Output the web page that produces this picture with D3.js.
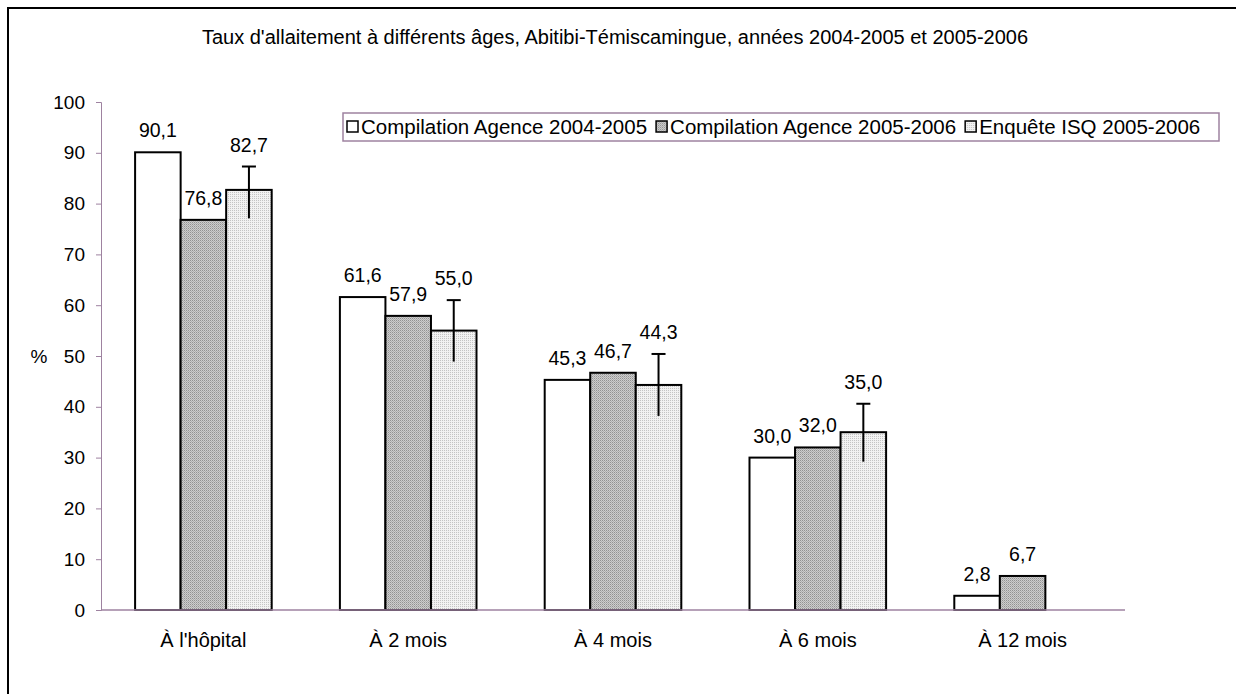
<!DOCTYPE html>
<html lang="fr">
<head>
  <meta charset="UTF-8" />
  <title>Taux d'allaitement</title>
  <script src="https://d3js.org/d3.v7.min.js"></script>
  <style>
    body {
      margin: 0;
      background: #ffffff;
      font-family: 'Liberation Sans', Arial, sans-serif;
    }
    text {
      font-family: 'Liberation Sans', Arial, sans-serif;
      fill: #000;
    }
  </style>
</head>
<body>
  <div id="chart"></div>

  <script>
    // data
    const categories = ["À l'hôpital", "À 2 mois", "À 4 mois", "À 6 mois", "À 12 mois"];
    const seriesNames = ["Compilation Agence 2004-2005", "Compilation Agence 2005-2006", "Enquête ISQ 2005-2006"];
    const agence0405 = [90.1, 61.6, 45.3, 30.0, 2.8];
    const agence0506 = [76.8, 57.9, 46.7, 32.0, 6.7];
    const isq0506 = [82.7, 55.0, 44.3, 35.0, null];
    const isqLow = [77.1, 48.9, 38.2, 29.2, null];
    const isqHigh = [87.3, 61.0, 50.4, 40.6, null];
    const yTicks = [0, 10, 20, 30, 40, 50, 60, 70, 80, 90, 100];

    const W = 1236, H = 694;
    const margin = { left: 101, right: 111, top: 102, bottom: 84 };
    const axisColor = "#9e82a0";

    const svg = d3.select("#chart").append("svg")
      .attr("width", W)
      .attr("height", H);

    // dotted fills
    const defs = svg.append("defs");
    const p1 = defs.append("pattern")
      .attr("id", "dotsDark")
      .attr("width", 2).attr("height", 2)
      .attr("patternUnits", "userSpaceOnUse");
    p1.append("rect").attr("width", 2).attr("height", 2).attr("fill", "#cdcdcd");
    p1.append("rect").attr("width", 1).attr("height", 1).attr("fill", "#929292");
    p1.append("rect").attr("x", 1).attr("y", 1).attr("width", 1).attr("height", 1).attr("fill", "#aeaeae");

    const p2 = defs.append("pattern")
      .attr("id", "dotsLight")
      .attr("width", 2).attr("height", 2)
      .attr("patternUnits", "userSpaceOnUse");
    p2.append("rect").attr("width", 2).attr("height", 2).attr("fill", "#f2f2f2");
    p2.append("rect").attr("width", 1).attr("height", 1).attr("fill", "#c4c4c4");

    const fills = ["#ffffff", "url(#dotsDark)", "url(#dotsLight)"];

    // outer frame (left and top edges visible)
    svg.append("path")
      .attr("d", `M8,${H} L8,8 L${W},8`)
      .attr("fill", "none")
      .attr("stroke", "#000")
      .attr("stroke-width", 2);

    // title
    svg.append("text")
      .attr("x", 615)
      .attr("y", 44)
      .attr("text-anchor", "middle")
      .attr("font-size", 20)
      .text("Taux d'allaitement à différents âges, Abitibi-Témiscamingue, années 2004-2005 et 2005-2006");

    const x0 = d3.scaleBand()
      .domain(categories)
      .range([margin.left, W - margin.right])
      .paddingInner(0.333)
      .paddingOuter(0.1665);

    const x1 = d3.scaleBand()
      .domain([0, 1, 2])
      .range([0, x0.bandwidth()]);

    const y = d3.scaleLinear()
      .domain([0, 100])
      .range([H - margin.bottom, margin.top]);

    // y axis
    const yAxis = svg.append("g")
      .attr("transform", `translate(${margin.left},0)`)
      .call(d3.axisLeft(y).tickValues(yTicks).tickSize(5).tickPadding(11).tickFormat(d3.format("d")));
    yAxis.select(".domain").attr("stroke", axisColor);
    yAxis.selectAll(".tick line").attr("stroke", axisColor);
    yAxis.selectAll(".tick text")
      .attr("font-size", 19)
      .attr("font-family", "'Liberation Sans', Arial, sans-serif");

    svg.append("text")
      .attr("x", 39)
      .attr("y", y(50) + 7)
      .attr("text-anchor", "middle")
      .attr("font-size", 19)
      .text("%");

    // bars
    const series = [agence0405, agence0506, isq0506];
    const barData = [];
    categories.forEach((c, i) => {
      series.forEach((s, k) => {
        if (s[i] != null) barData.push({ cat: c, k: k, v: s[i], i: i });
      });
    });

    svg.append("g").selectAll("rect")
      .data(barData)
      .join("rect")
      .attr("x", d => x0(d.cat) + x1(d.k))
      .attr("y", d => y(d.v))
      .attr("width", x1.bandwidth())
      .attr("height", d => y(0) - y(d.v))
      .attr("fill", d => fills[d.k])
      .attr("stroke", "#000")
      .attr("stroke-width", 2);

    // error bars on the ISQ series
    const errData = categories.map((c, i) => ({ cat: c, lo: isqLow[i], hi: isqHigh[i] }))
      .filter(d => d.hi != null);
    const eg = svg.append("g").attr("stroke", "#000").attr("stroke-width", 2);
    errData.forEach(d => {
      const cx = x0(d.cat) + x1(2) + x1.bandwidth() / 2;
      eg.append("line")
        .attr("x1", cx).attr("x2", cx)
        .attr("y1", y(d.lo)).attr("y2", y(d.hi));
      eg.append("line")
        .attr("x1", cx - 7).attr("x2", cx + 7)
        .attr("y1", y(d.hi)).attr("y2", y(d.hi));
    });

    // x axis line drawn over bar bottoms
    svg.append("line")
      .attr("x1", margin.left).attr("x2", W - margin.right)
      .attr("y1", y(0)).attr("y2", y(0))
      .attr("stroke", axisColor)
      .attr("stroke-width", 1.5);

    // value labels
    svg.append("g").selectAll("text")
      .data(barData)
      .join("text")
      .attr("x", d => x0(d.cat) + x1(d.k) + x1.bandwidth() / 2)
      .attr("y", d => {
        const top = d.k === 2 && isqHigh[d.i] != null ? isqHigh[d.i] : d.v;
        return y(top) - 15;
      })
      .attr("text-anchor", "middle")
      .attr("font-size", 19.5)
      .text(d => d3.format(".1f")(d.v).replace(".", ","));

    // category labels
    svg.append("g").selectAll("text")
      .data(categories)
      .join("text")
      .attr("x", d => x0(d) + x0.bandwidth() / 2)
      .attr("y", 647)
      .attr("text-anchor", "middle")
      .attr("font-size", 20)
      .text(d => d);

    // legend
    const legend = svg.append("g").attr("transform", "translate(343,113)");
    legend.append("rect")
      .attr("width", 876)
      .attr("height", 28)
      .attr("fill", "#fff")
      .attr("stroke", axisColor)
      .attr("stroke-width", 1.5);
    let lx = 4;
    seriesNames.forEach((name, k) => {
      const g = legend.append("g").attr("transform", `translate(${lx},8)`);
      g.append("rect")
        .attr("width", 11).attr("height", 11)
        .attr("fill", fills[k])
        .attr("stroke", "#000")
        .attr("stroke-width", 1.5);
      const t = g.append("text")
        .attr("x", 14)
        .attr("y", 13)
        .attr("font-size", 20.5)
        .text(name);
      lx += 14 + t.node().getComputedTextLength() + 9;
    });
  </script>
</body>
</html>
